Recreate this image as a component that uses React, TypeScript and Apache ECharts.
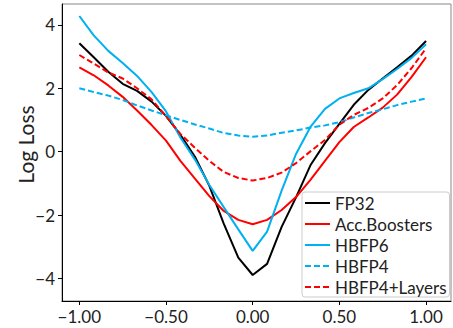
import React, { useEffect, useRef } from "react";
import * as echarts from "echarts";

const xValues = [-1, -0.917, -0.833, -0.75, -0.667, -0.583, -0.5, -0.417, -0.333, -0.25, -0.167, -0.083, 0, 0.083, 0.167, 0.25, 0.333, 0.417, 0.5, 0.583, 0.667, 0.75, 0.833, 0.917, 1];

const fp32 = [3.42, 2.98, 2.52, 2.14, 1.92, 1.58, 1.13, 0.53, -0.16, -1.08, -2.27, -3.34, -3.89, -3.54, -2.37, -1.44, -0.43, 0.27, 0.88, 1.48, 1.95, 2.31, 2.66, 3.03, 3.49];
const accBoosters = [2.66, 2.41, 2.09, 1.73, 1.3, 0.84, 0.35, -0.29, -0.85, -1.4, -1.87, -2.15, -2.29, -2.15, -1.84, -1.43, -0.89, -0.29, 0.3, 0.78, 1.08, 1.39, 1.8, 2.36, 2.98];
const hbfp6 = [4.28, 3.67, 3.18, 2.8, 2.39, 1.88, 1.27, 0.45, -0.25, -1.05, -1.75, -2.45, -3.13, -2.52, -1.23, -0.07, 0.78, 1.35, 1.68, 1.85, 2.0, 2.29, 2.61, 2.96, 3.39];
const hbfp4 = [2.0, 1.88, 1.77, 1.63, 1.46, 1.3, 1.15, 1.0, 0.86, 0.73, 0.59, 0.51, 0.47, 0.51, 0.6, 0.67, 0.76, 0.83, 0.93, 1.08, 1.22, 1.34, 1.47, 1.58, 1.68];
const hbfp4Layers = [3.05, 2.78, 2.5, 2.31, 2.0, 1.65, 1.12, 0.56, 0.12, -0.29, -0.64, -0.83, -0.91, -0.83, -0.66, -0.36, 0.01, 0.37, 0.85, 1.16, 1.38, 1.68, 2.1, 2.64, 3.26];

const xTicks = [-1, -0.5, 0, 0.5, 1];
const yTicks = [-4, -2, 0, 2, 4];

const FONT = "Lato, 'Liberation Sans', sans-serif";
const BLUE = "#00B0F0";
const RED = "#FF0000";

const fmt = (s: string) => s.replace("-", "\u2212");

export default function App() {
  const ref = useRef<HTMLDivElement>(null);
  useEffect(() => {
    if (!ref.current) return;
    const chart = echarts.init(ref.current, undefined, { renderer: "svg" });
    const mk = (name: string, vals: number[], color: string, dashed: boolean) => ({
      name,
      type: "line",
      data: xValues.map((x, i) => [x, vals[i]]),
      symbol: "none",
      smooth: false,
      lineStyle: { color, width: 2, type: dashed ? [6, 3] : "solid" },
      itemStyle: { color },
    });
    chart.setOption({
      animation: false,
      grid: {
        left: 62,
        right: 2,
        top: 4,
        bottom: 27,
        show: true,
        borderColor: "#888",
        borderWidth: 1,
        backgroundColor: "#fff",
      },
      xAxis: {
        type: "value",
        min: -1.1,
        max: 1.144,
        splitLine: { show: false },
        axisLine: { show: true, onZero: false, lineStyle: { color: "#000", width: 1 } },
        axisTick: { show: true, customValues: xTicks, length: 4, lineStyle: { color: "#000" } },
        axisLabel: {
          customValues: xTicks,
          margin: 7,
          fontSize: 17,
          fontFamily: FONT,
          color: "#222",
          formatter: (v: number) => fmt(v.toFixed(2)),
        },
      },
      yAxis: {
        type: "value",
        min: -4.71,
        max: 4.659,
        splitLine: { show: false },
        axisLine: { show: true, onZero: false, lineStyle: { color: "#000", width: 1 } },
        axisTick: { show: true, customValues: yTicks, length: 4, lineStyle: { color: "#000" } },
        axisLabel: {
          customValues: yTicks,
          margin: 7,
          fontSize: 17,
          fontFamily: FONT,
          color: "#222",
          formatter: (v: number) => fmt(String(Math.round(v))),
        },
      },
      legend: {
        orient: "vertical",
        left: 302,
        top: 192,
        itemWidth: 25,
        itemHeight: 14,
        itemGap: 3,
        padding: [2, 3, 1, 2],
        backgroundColor: "rgba(255,255,255,0.85)",
        borderColor: "#ccc",
        borderWidth: 1,
        borderRadius: 3,
        itemStyle: { opacity: 0 },
        textStyle: { fontSize: 17, lineHeight: 18, fontFamily: FONT, color: "#222" },
        data: ["FP32", "Acc.Boosters", "HBFP6", "HBFP4", "HBFP4+Layers"],
      },
      graphic: [
        {
          type: "text",
          x: 25,
          y: 144.5,
          rotation: Math.PI / 2,
          style: {
            text: "Log Loss",
            fontSize: 21,
            fontFamily: FONT,
            fill: "#222",
            align: "center",
            verticalAlign: "middle",
          },
        },
      ],
      series: [
        mk("FP32", fp32, "#000", false),
        mk("Acc.Boosters", accBoosters, RED, false),
        mk("HBFP6", hbfp6, BLUE, false),
        mk("HBFP4", hbfp4, BLUE, true),
        mk("HBFP4+Layers", hbfp4Layers, RED, true),
      ],
    });
    return () => chart.dispose();
  }, []);
  return <div ref={ref} style={{ width: 453, height: 328, position: "absolute", left: 0, top: 0 }} />;
}
